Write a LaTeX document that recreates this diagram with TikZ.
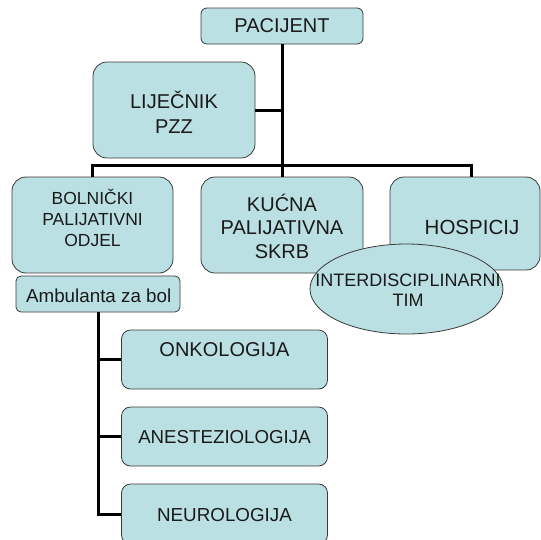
\documentclass[tikz,border=0pt]{standalone}
\usepackage{fontspec}
\setmainfont{Liberation Sans}
\usetikzlibrary{shapes.geometric}
\definecolor{boxfill}{HTML}{BBE0E3}
\definecolor{boxline}{HTML}{3A3A3A}
\definecolor{txtcol}{HTML}{1A1A1A}

\begin{document}
\begin{tikzpicture}[x=1pt,y=-1pt,
 box/.style={draw=boxline,fill=boxfill,line width=0.8pt,rounded corners=14pt,inner sep=0pt},
 oval/.style={ellipse,draw=boxline,fill=boxfill,line width=0.8pt,inner sep=0pt},
 link/.style={line width=3pt,black},
 lbl/.style={text=txtcol,align=center,inner sep=0pt}]
 \path[use as bounding box,clip] (0,0) rectangle (541,539);

 \node[box,rounded corners=6pt,minimum width=162pt,minimum height=36pt] (pac) at (282,26) {};
 \node[box,minimum width=162pt,minimum height=96pt] (lij) at (174,110) {};
 \node[box,minimum width=161pt,minimum height=96pt] (bol) at (92.5,225) {};
 \node[box,minimum width=162pt,minimum height=96pt] (kuc) at (282,225) {};
 \node[box,minimum width=150pt,minimum height=93pt] (hos) at (465,223.5) {};
 \node[box,rounded corners=5pt,minimum width=164pt,minimum height=36pt] (amb) at (98,294) {};
 \node[box,rounded corners=9pt,minimum width=206pt,minimum height=59pt] (onk) at (224.5,359.5) {};
 \node[box,rounded corners=9pt,minimum width=206pt,minimum height=59pt] (ane) at (224.5,436.5) {};
 \node[box,rounded corners=9pt,minimum width=206pt,minimum height=60pt] (neu) at (224.5,514) {};
 \node[oval,minimum width=193pt,minimum height=90pt] (tim) at (406.5,289) {};

 % connectors
 \coordinate (bar) at (282,165);
 \draw[link] (pac.south) -- (kuc.north);
 \draw[link] (lij.east) -- (lij.east -| pac.south);
 \draw[link] (bol.north) |- (bar) -| ([xshift=6pt]hos.north);
 \draw[link] (amb.south) |- (neu.west);
 \draw[link] (amb.south |- onk.west) -- (onk.west);
 \draw[link] (amb.south |- ane.west) -- (ane.west);

 % texts
 \node[lbl,font=\fontsize{20}{24}\selectfont] (pactxt) at (pac) {PACIJENT};
 \node[lbl,font=\fontsize{20}{25}\selectfont] (lijtxt) at ([yshift=-2pt]lij) {LIJEČNIK\\PZZ};
 \node[lbl,font=\fontsize{17.5}{21}\selectfont] (boltxt) at ([yshift=7pt]bol) {BOLNIČKI\\PALIJATIVNI\\ODJEL};
 \node[lbl,font=\fontsize{20}{23.5}\selectfont] (kuctxt) at ([yshift=-1pt]kuc) {KUĆNA\\PALIJATIVNA\\SKRB};
 \node[lbl,font=\fontsize{20.5}{24}\selectfont] (hostxt) at ([xshift=7pt,yshift=-4pt]hos) {HOSPICIJ};
 \node[lbl,font=\fontsize{18}{20}\selectfont] (timtxt) at ([xshift=1.5pt,yshift=-1pt]tim) {INTERDISCIPLINARNI\\TIM};
 \node[lbl,font=\fontsize{18.8}{22}\selectfont] (ambtxt) at ([xshift=0.7pt,yshift=-2pt]amb) {Ambulanta za bol};
 \node[lbl,font=\fontsize{20}{24}\selectfont] (onktxt) at ([yshift=10pt]onk) {ONKOLOGIJA};
 \node[lbl,font=\fontsize{18.7}{22}\selectfont] (anetxt) at ([yshift=-0.5pt]ane) {ANESTEZIOLOGIJA};
 \node[lbl,font=\fontsize{18.8}{22}\selectfont] (neutxt) at ([yshift=-1pt]neu) {NEUROLOGIJA};
\end{tikzpicture}
\end{document}
